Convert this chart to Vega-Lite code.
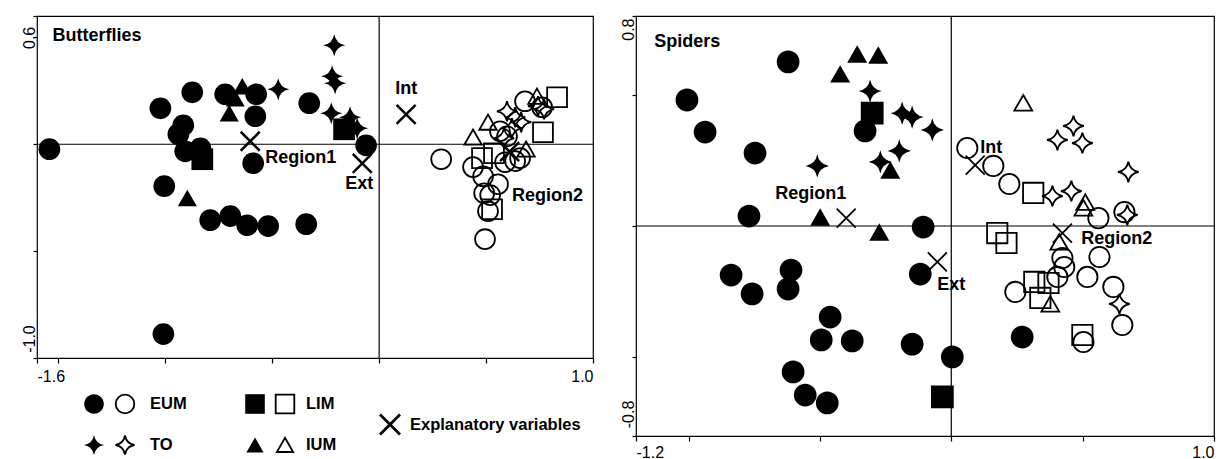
{
  "$schema": "https://vega.github.io/schema/vega-lite/v6.json",
  "padding": {"left": 20, "top": 14, "right": 5, "bottom": 5},
  "background": "white",
  "config": {
    "view": {"stroke": "black", "strokeWidth": 1.2},
    "axis": {"domain": false, "grid": false, "ticks": true, "tickColor": "black", "tickWidth": 1.2, "labelColor": "black", "labelFont": "Liberation Sans", "labelFontSize": 16, "labelOverlap": false, "labelBound": false},
    "point": {"opacity": 1},
    "text": {"font": "Liberation Sans", "fontWeight": "bold", "color": "black"}
  },
  "datasets": {
    "pts": [
      {"panel":"Butterflies","group":"EUM","region":"Region1","x":-1.542,"y":-0.023},
      {"panel":"Butterflies","group":"EUM","region":"Region1","x":-1.023,"y":0.168},
      {"panel":"Butterflies","group":"EUM","region":"Region1","x":-0.874,"y":0.243},
      {"panel":"Butterflies","group":"EUM","region":"Region1","x":-0.916,"y":0.089},
      {"panel":"Butterflies","group":"EUM","region":"Region1","x":-0.939,"y":0.047},
      {"panel":"Butterflies","group":"EUM","region":"Region1","x":-0.907,"y":-0.033},
      {"panel":"Butterflies","group":"EUM","region":"Region1","x":-0.836,"y":-0.019},
      {"panel":"Butterflies","group":"EUM","region":"Region1","x":-0.720,"y":0.234},
      {"panel":"Butterflies","group":"EUM","region":"Region1","x":-0.575,"y":0.234},
      {"panel":"Butterflies","group":"EUM","region":"Region1","x":-0.579,"y":0.131},
      {"panel":"Butterflies","group":"EUM","region":"Region1","x":-0.589,"y":-0.089},
      {"panel":"Butterflies","group":"EUM","region":"Region1","x":-0.327,"y":0.192},
      {"panel":"Butterflies","group":"EUM","region":"Region1","x":-0.061,"y":-0.005},
      {"panel":"Butterflies","group":"EUM","region":"Region1","x":-1.005,"y":-0.196},
      {"panel":"Butterflies","group":"EUM","region":"Region1","x":-0.790,"y":-0.355},
      {"panel":"Butterflies","group":"EUM","region":"Region1","x":-0.696,"y":-0.336},
      {"panel":"Butterflies","group":"EUM","region":"Region1","x":-0.617,"y":-0.379},
      {"panel":"Butterflies","group":"EUM","region":"Region1","x":-0.519,"y":-0.383},
      {"panel":"Butterflies","group":"EUM","region":"Region1","x":-0.341,"y":-0.374},
      {"panel":"Butterflies","group":"EUM","region":"Region1","x":-1.009,"y":-0.888},
      {"panel":"Butterflies","group":"LIM","region":"Region1","x":-0.827,"y":-0.070},
      {"panel":"Butterflies","group":"LIM","region":"Region1","x":-0.164,"y":0.070},
      {"panel":"Butterflies","group":"IUM","region":"Region1","x":-0.640,"y":0.271},
      {"panel":"Butterflies","group":"IUM","region":"Region1","x":-0.673,"y":0.215},
      {"panel":"Butterflies","group":"IUM","region":"Region1","x":-0.701,"y":0.145},
      {"panel":"Butterflies","group":"IUM","region":"Region1","x":-0.897,"y":-0.252},
      {"panel":"Butterflies","group":"TO","region":"Region1","x":-0.472,"y":0.257},
      {"panel":"Butterflies","group":"TO","region":"Region1","x":-0.210,"y":0.463},
      {"panel":"Butterflies","group":"TO","region":"Region1","x":-0.220,"y":0.318},
      {"panel":"Butterflies","group":"TO","region":"Region1","x":-0.206,"y":0.285},
      {"panel":"Butterflies","group":"TO","region":"Region1","x":-0.224,"y":0.145},
      {"panel":"Butterflies","group":"TO","region":"Region1","x":-0.136,"y":0.126},
      {"panel":"Butterflies","group":"TO","region":"Region1","x":-0.103,"y":0.075},
      {"panel":"Butterflies","group":"EUM","region":"Region2","x":0.290,"y":-0.070},
      {"panel":"Butterflies","group":"EUM","region":"Region2","x":0.439,"y":-0.107},
      {"panel":"Butterflies","group":"EUM","region":"Region2","x":0.486,"y":-0.150},
      {"panel":"Butterflies","group":"EUM","region":"Region2","x":0.589,"y":-0.084},
      {"panel":"Butterflies","group":"EUM","region":"Region2","x":0.636,"y":-0.079},
      {"panel":"Butterflies","group":"EUM","region":"Region2","x":0.556,"y":-0.187},
      {"panel":"Butterflies","group":"EUM","region":"Region2","x":0.491,"y":-0.229},
      {"panel":"Butterflies","group":"EUM","region":"Region2","x":0.519,"y":-0.238},
      {"panel":"Butterflies","group":"EUM","region":"Region2","x":0.509,"y":-0.313},
      {"panel":"Butterflies","group":"EUM","region":"Region2","x":0.495,"y":-0.444},
      {"panel":"Butterflies","group":"EUM","region":"Region2","x":0.682,"y":0.201},
      {"panel":"Butterflies","group":"EUM","region":"Region2","x":0.762,"y":0.173},
      {"panel":"Butterflies","group":"EUM","region":"Region2","x":0.598,"y":0.037},
      {"panel":"Butterflies","group":"EUM","region":"Region2","x":0.565,"y":0.061},
      {"panel":"Butterflies","group":"EUM","region":"Region2","x":0.659,"y":-0.065},
      {"panel":"Butterflies","group":"LIM","region":"Region2","x":0.832,"y":0.220},
      {"panel":"Butterflies","group":"LIM","region":"Region2","x":0.766,"y":0.056},
      {"panel":"Butterflies","group":"LIM","region":"Region2","x":0.481,"y":-0.065},
      {"panel":"Butterflies","group":"LIM","region":"Region2","x":0.537,"y":-0.042},
      {"panel":"Butterflies","group":"LIM","region":"Region2","x":0.528,"y":-0.304},
      {"panel":"Butterflies","group":"IUM","region":"Region2","x":0.738,"y":0.224},
      {"panel":"Butterflies","group":"IUM","region":"Region2","x":0.509,"y":0.103},
      {"panel":"Butterflies","group":"IUM","region":"Region2","x":0.439,"y":0.033},
      {"panel":"Butterflies","group":"IUM","region":"Region2","x":0.687,"y":-0.023},
      {"panel":"Butterflies","group":"TO","region":"Region2","x":0.743,"y":0.178},
      {"panel":"Butterflies","group":"TO","region":"Region2","x":0.771,"y":0.164},
      {"panel":"Butterflies","group":"TO","region":"Region2","x":0.598,"y":0.154},
      {"panel":"Butterflies","group":"TO","region":"Region2","x":0.636,"y":0.126},
      {"panel":"Butterflies","group":"TO","region":"Region2","x":0.664,"y":0.103},
      {"panel":"Butterflies","group":"TO","region":"Region2","x":0.621,"y":0.075},
      {"panel":"Butterflies","group":"TO","region":"Region2","x":0.584,"y":0.028},
      {"panel":"Spiders","group":"EUM","region":"Region1","x":-0.621,"y":0.625},
      {"panel":"Spiders","group":"EUM","region":"Region1","x":-1.006,"y":0.480},
      {"panel":"Spiders","group":"EUM","region":"Region1","x":-0.937,"y":0.358},
      {"panel":"Spiders","group":"EUM","region":"Region1","x":-0.747,"y":0.278},
      {"panel":"Spiders","group":"EUM","region":"Region1","x":-0.328,"y":0.362},
      {"panel":"Spiders","group":"EUM","region":"Region1","x":-0.770,"y":0.038},
      {"panel":"Spiders","group":"EUM","region":"Region1","x":-0.107,"y":-0.004},
      {"panel":"Spiders","group":"EUM","region":"Region1","x":-0.838,"y":-0.187},
      {"panel":"Spiders","group":"EUM","region":"Region1","x":-0.758,"y":-0.259},
      {"panel":"Spiders","group":"EUM","region":"Region1","x":-0.610,"y":-0.168},
      {"panel":"Spiders","group":"EUM","region":"Region1","x":-0.621,"y":-0.240},
      {"panel":"Spiders","group":"EUM","region":"Region1","x":-0.461,"y":-0.347},
      {"panel":"Spiders","group":"EUM","region":"Region1","x":-0.495,"y":-0.434},
      {"panel":"Spiders","group":"EUM","region":"Region1","x":-0.377,"y":-0.438},
      {"panel":"Spiders","group":"EUM","region":"Region1","x":-0.602,"y":-0.556},
      {"panel":"Spiders","group":"EUM","region":"Region1","x":-0.556,"y":-0.644},
      {"panel":"Spiders","group":"EUM","region":"Region1","x":-0.472,"y":-0.674},
      {"panel":"Spiders","group":"EUM","region":"Region1","x":-0.149,"y":-0.450},
      {"panel":"Spiders","group":"EUM","region":"Region1","x":-0.118,"y":-0.183},
      {"panel":"Spiders","group":"EUM","region":"Region1","x":0.004,"y":-0.499},
      {"panel":"Spiders","group":"EUM","region":"Region1","x":0.270,"y":-0.423},
      {"panel":"Spiders","group":"LIM","region":"Region1","x":-0.301,"y":0.430},
      {"panel":"Spiders","group":"LIM","region":"Region1","x":-0.034,"y":-0.651},
      {"panel":"Spiders","group":"IUM","region":"Region1","x":-0.358,"y":0.655},
      {"panel":"Spiders","group":"IUM","region":"Region1","x":-0.278,"y":0.651},
      {"panel":"Spiders","group":"IUM","region":"Region1","x":-0.423,"y":0.579},
      {"panel":"Spiders","group":"IUM","region":"Region1","x":-0.232,"y":0.213},
      {"panel":"Spiders","group":"IUM","region":"Region1","x":-0.499,"y":0.034},
      {"panel":"Spiders","group":"IUM","region":"Region1","x":-0.274,"y":-0.023},
      {"panel":"Spiders","group":"TO","region":"Region1","x":-0.309,"y":0.514},
      {"panel":"Spiders","group":"TO","region":"Region1","x":-0.187,"y":0.430},
      {"panel":"Spiders","group":"TO","region":"Region1","x":-0.149,"y":0.415},
      {"panel":"Spiders","group":"TO","region":"Region1","x":-0.072,"y":0.366},
      {"panel":"Spiders","group":"TO","region":"Region1","x":-0.198,"y":0.286},
      {"panel":"Spiders","group":"TO","region":"Region1","x":-0.270,"y":0.244},
      {"panel":"Spiders","group":"TO","region":"Region1","x":-0.510,"y":0.229},
      {"panel":"Spiders","group":"EUM","region":"Region2","x":0.061,"y":0.297},
      {"panel":"Spiders","group":"EUM","region":"Region2","x":0.160,"y":0.229},
      {"panel":"Spiders","group":"EUM","region":"Region2","x":0.221,"y":0.160},
      {"panel":"Spiders","group":"EUM","region":"Region2","x":0.560,"y":0.030},
      {"panel":"Spiders","group":"EUM","region":"Region2","x":0.659,"y":0.053},
      {"panel":"Spiders","group":"EUM","region":"Region2","x":0.423,"y":-0.122},
      {"panel":"Spiders","group":"EUM","region":"Region2","x":0.430,"y":-0.156},
      {"panel":"Spiders","group":"EUM","region":"Region2","x":0.404,"y":-0.194},
      {"panel":"Spiders","group":"EUM","region":"Region2","x":0.564,"y":-0.118},
      {"panel":"Spiders","group":"EUM","region":"Region2","x":0.518,"y":-0.194},
      {"panel":"Spiders","group":"EUM","region":"Region2","x":0.244,"y":-0.251},
      {"panel":"Spiders","group":"EUM","region":"Region2","x":0.617,"y":-0.232},
      {"panel":"Spiders","group":"EUM","region":"Region2","x":0.651,"y":-0.377},
      {"panel":"Spiders","group":"EUM","region":"Region2","x":0.503,"y":-0.442},
      {"panel":"Spiders","group":"LIM","region":"Region2","x":0.312,"y":0.126},
      {"panel":"Spiders","group":"LIM","region":"Region2","x":0.175,"y":-0.027},
      {"panel":"Spiders","group":"LIM","region":"Region2","x":0.210,"y":-0.065},
      {"panel":"Spiders","group":"LIM","region":"Region2","x":0.316,"y":-0.213},
      {"panel":"Spiders","group":"LIM","region":"Region2","x":0.370,"y":-0.217},
      {"panel":"Spiders","group":"LIM","region":"Region2","x":0.339,"y":-0.274},
      {"panel":"Spiders","group":"LIM","region":"Region2","x":0.499,"y":-0.415},
      {"panel":"Spiders","group":"IUM","region":"Region2","x":0.274,"y":0.469},
      {"panel":"Spiders","group":"IUM","region":"Region2","x":0.510,"y":0.091},
      {"panel":"Spiders","group":"IUM","region":"Region2","x":0.503,"y":0.069},
      {"panel":"Spiders","group":"IUM","region":"Region2","x":0.411,"y":-0.061},
      {"panel":"Spiders","group":"IUM","region":"Region2","x":0.377,"y":-0.297},
      {"panel":"Spiders","group":"TO","region":"Region2","x":0.465,"y":0.381},
      {"panel":"Spiders","group":"TO","region":"Region2","x":0.404,"y":0.328},
      {"panel":"Spiders","group":"TO","region":"Region2","x":0.499,"y":0.316},
      {"panel":"Spiders","group":"TO","region":"Region2","x":0.674,"y":0.206},
      {"panel":"Spiders","group":"TO","region":"Region2","x":0.385,"y":0.114},
      {"panel":"Spiders","group":"TO","region":"Region2","x":0.457,"y":0.133},
      {"panel":"Spiders","group":"TO","region":"Region2","x":0.670,"y":0.042},
      {"panel":"Spiders","group":"TO","region":"Region2","x":0.640,"y":-0.297}
    ],
    "vars": [
      {"panel":"Butterflies","name":"Region1","x":-0.603,"y":0.014},
      {"panel":"Butterflies","name":"Ext","x":-0.079,"y":-0.089},
      {"panel":"Butterflies","name":"Int","x":0.126,"y":0.140},
      {"panel":"Butterflies","name":"Region2","x":0.610,"y":-0.035},
      {"panel":"Spiders","name":"Region1","x":-0.400,"y":0.030},
      {"panel":"Spiders","name":"Int","x":0.091,"y":0.232},
      {"panel":"Spiders","name":"Ext","x":-0.053,"y":-0.137},
      {"panel":"Spiders","name":"Region2","x":0.423,"y":-0.027}
    ],
    "labels": [
      {"panel":"Butterflies","label":"Butterflies","x":-1.528,"y":0.505},
      {"panel":"Butterflies","label":"Region1","x":-0.533,"y":-0.065},
      {"panel":"Butterflies","label":"Ext","x":-0.159,"y":-0.187},
      {"panel":"Butterflies","label":"Int","x":0.075,"y":0.257},
      {"panel":"Butterflies","label":"Region2","x":0.621,"y":-0.243},
      {"panel":"Spiders","label":"Spiders","x":-1.131,"y":0.701},
      {"panel":"Spiders","label":"Region1","x":-0.670,"y":0.122},
      {"panel":"Spiders","label":"Int","x":0.110,"y":0.297},
      {"panel":"Spiders","label":"Ext","x":-0.053,"y":-0.225},
      {"panel":"Spiders","label":"Region2","x":0.495,"y":-0.050}
    ],
    "legend": [
      {"group":"EUM","region":"Region1"},{"group":"EUM","region":"Region2"},
      {"group":"TO","region":"Region1"},{"group":"TO","region":"Region2"},
      {"group":"LIM","region":"Region1"},{"group":"LIM","region":"Region2"},
      {"group":"IUM","region":"Region1"},{"group":"IUM","region":"Region2"}
    ],
    "legvars": [{"label":"Explanatory variables"}]
  },
  "hconcat": [
    {
      "width": 556, "height": 342,
      "resolve": {"scale": {"x": "independent", "y": "independent"}},
      "layer": [
        {
          "layer": [
            {"data": {"values": [{}]}, "mark": {"type": "rule", "color": "black", "strokeWidth": 1.2}, "encoding": {"x": {"datum": 0, "type": "quantitative"}}},
            {"data": {"values": [{}]}, "mark": {"type": "rule", "color": "black", "strokeWidth": 1.2}, "encoding": {"y": {"datum": 0, "type": "quantitative"}}},
            {
              "data": {"name": "pts"},
              "transform": [{"filter": "datum.panel == 'Butterflies' && datum.region == 'Region1'"}],
              "mark": {"type": "point", "filled": true, "color": "black", "size": 490, "opacity": 1},
              "encoding": {
                "x": {"field": "x", "type": "quantitative", "scale": {"domain": [-1.6, 1], "nice": false, "zero": false},
                  "axis": {"title": null, "values": [-1.6, -1.5, -1, -0.5, 0, 0.5, 1], "labelExpr": "datum.value == -1.6 ? '-1.6' : (datum.value == 1 ? '1.0' : '')", "labelFlush": true, "tickSize": 5, "labelPadding": 5}},
                "y": {"field": "y", "type": "quantitative", "scale": {"domain": [-1, 0.6], "nice": false, "zero": false},
                  "axis": {"title": null, "values": [0.6, 0.5, 0, -0.5, -0.909, -1], "labelExpr": "datum.value == 0.5 ? '0.6' : (datum.value == -0.909 ? '-1.0' : '')", "tickOpacity": {"condition": {"test": "datum.value == -0.909", "value": 0}, "value": 1}, "labelAngle": 270, "labelAlign": "center", "labelBaseline": "alphabetic", "labelPadding": -1, "tickSize": 4, "labelFlush": false}},
                "shape": {"field": "group", "type": "nominal", "legend": null, "scale": {"domain": ["EUM", "TO", "LIM", "IUM"], "range": ["M0.98,0A0.98,0.98,0,1,1,-0.98,0A0.98,0.98,0,1,1,0.98,0Z", "M0,-1Q0.15,-0.15,1,0Q0.15,0.15,0,1Q-0.15,0.15,-1,0Q-0.15,-0.15,0,-1Z", "M-0.98,-0.98H0.98V0.98H-0.98Z", "M0,-0.76L0.86,0.74L-0.86,0.74Z"]}}
              }
            },
            {
              "data": {"name": "pts"},
              "transform": [{"filter": "datum.panel == 'Butterflies' && datum.region == 'Region2'"}],
              "mark": {"type": "point", "filled": false, "color": "black", "strokeWidth": 1.8, "size": 410, "opacity": 1},
              "encoding": {
                "x": {"field": "x", "type": "quantitative"},
                "y": {"field": "y", "type": "quantitative"},
                "shape": {"field": "group", "type": "nominal", "legend": null}
              }
            },
            {
              "data": {"name": "vars"},
              "transform": [{"filter": "datum.panel == 'Butterflies'"}],
              "mark": {"type": "point", "filled": false, "color": "black", "strokeWidth": 2.5, "size": 361, "opacity": 1, "shape": "M-1,-1L1,1M-1,1L1,-1"},
              "encoding": {"x": {"field": "x", "type": "quantitative"}, "y": {"field": "y", "type": "quantitative"}}
            },
            {
              "data": {"name": "labels"},
              "transform": [{"filter": "datum.panel == 'Butterflies'"}],
              "mark": {"type": "text", "align": "left", "baseline": "middle", "fontSize": 18, "fontWeight": "bold", "font": "Liberation Sans", "color": "black"},
              "encoding": {"x": {"field": "x", "type": "quantitative"}, "y": {"field": "y", "type": "quantitative"}, "text": {"field": "label"}}
            }
          ]
        },
        {
          "data": {"name": "legend"},
          "transform": [{"filter": {"field": "group", "oneOf": ["EUM", "TO"]}}],
          "encoding": {
            "x": {"field": "region", "type": "nominal", "axis": null, "scale": {"domain": ["Region1", "Region2"], "range": [57, 88], "padding": 0}},
            "y": {"field": "group", "type": "nominal", "axis": null, "scale": {"domain": ["EUM", "TO"], "range": [388, 429], "padding": 0}}
          },
          "layer": [
            {"transform": [{"filter": "datum.region == 'Region1'"}], "mark": {"type": "point", "filled": true, "color": "black", "size": 400, "opacity": 1}, "encoding": {"shape": {"field": "group", "type": "nominal", "legend": null}}},
            {"transform": [{"filter": "datum.region == 'Region2'"}], "mark": {"type": "point", "filled": false, "color": "black", "strokeWidth": 1.8, "size": 360, "opacity": 1}, "encoding": {"shape": {"field": "group", "type": "nominal", "legend": null}}},
            {"transform": [{"filter": "datum.region == 'Region2'"}], "mark": {"type": "text", "align": "left", "baseline": "middle", "dx": 25, "fontSize": 16.5, "fontWeight": "bold", "font": "Liberation Sans", "color": "black"}, "encoding": {"text": {"field": "group"}}}
          ]
        },
        {
          "data": {"name": "legend"},
          "transform": [{"filter": {"field": "group", "oneOf": ["LIM", "IUM"]}}],
          "encoding": {
            "x": {"field": "region", "type": "nominal", "axis": null, "scale": {"domain": ["Region1", "Region2"], "range": [218, 248], "padding": 0}},
            "y": {"field": "group", "type": "nominal", "axis": null, "scale": {"domain": ["LIM", "IUM"], "range": [388, 429], "padding": 0}}
          },
          "layer": [
            {"transform": [{"filter": "datum.region == 'Region1'"}], "mark": {"type": "point", "filled": true, "color": "black", "size": 400, "opacity": 1}, "encoding": {"shape": {"field": "group", "type": "nominal", "legend": null}}},
            {"transform": [{"filter": "datum.region == 'Region2'"}], "mark": {"type": "point", "filled": false, "color": "black", "strokeWidth": 1.8, "size": 360, "opacity": 1}, "encoding": {"shape": {"field": "group", "type": "nominal", "legend": null}}},
            {"transform": [{"filter": "datum.region == 'Region2'"}], "mark": {"type": "text", "align": "left", "baseline": "middle", "dx": 21, "fontSize": 16.5, "fontWeight": "bold", "font": "Liberation Sans", "color": "black"}, "encoding": {"text": {"field": "group"}}}
          ]
        },
        {
          "data": {"name": "legvars"},
          "encoding": {
            "x": {"field": "label", "type": "nominal", "axis": null, "scale": {"range": [343, 363], "padding": 0.5}},
            "y": {"field": "label", "type": "nominal", "axis": null, "scale": {"range": [388, 429], "padding": 0.5}}
          },
          "layer": [
            {"mark": {"type": "point", "filled": false, "color": "black", "strokeWidth": 2.8, "size": 400, "opacity": 1, "shape": "M-1,-1L1,1M-1,1L1,-1"}},
            {"mark": {"type": "text", "align": "left", "baseline": "middle", "dx": 20, "fontSize": 16.5, "fontWeight": "bold", "font": "Liberation Sans", "color": "black"}, "encoding": {"text": {"field": "label"}}}
          ]
        }
      ]
    },
    {
      "width": 578, "height": 420,
      "layer": [
        {"data": {"values": [{}]}, "mark": {"type": "rule", "color": "black", "strokeWidth": 1.2}, "encoding": {"x": {"datum": 0, "type": "quantitative"}}},
        {"data": {"values": [{}]}, "mark": {"type": "rule", "color": "black", "strokeWidth": 1.2}, "encoding": {"y": {"datum": 0, "type": "quantitative"}}},
        {
          "data": {"name": "pts"},
          "transform": [{"filter": "datum.panel == 'Spiders' && datum.region == 'Region1'"}],
          "mark": {"type": "point", "filled": true, "color": "black", "size": 540, "opacity": 1},
          "encoding": {
            "x": {"field": "x", "type": "quantitative", "scale": {"domain": [-1.2, 1], "nice": false, "zero": false},
              "axis": {"title": null, "values": [-1.2, -1, -0.5, 0, 0.5, 1], "labelExpr": "datum.value == -1.2 ? '-1.2' : (datum.value == 1 ? '1.0' : '')", "labelFlush": true, "tickSize": 5, "labelPadding": 3}},
            "y": {"field": "y", "type": "quantitative", "scale": {"domain": [-0.8, 0.8], "nice": false, "zero": false},
              "axis": {"title": null, "values": [0.8, 0.75, 0.5, 0, -0.5, -0.716, -0.8], "labelExpr": "datum.value == 0.75 ? '0.8' : (datum.value == -0.716 ? '-0.8' : '')", "tickOpacity": {"condition": {"test": "datum.value == 0.75 || datum.value == -0.716", "value": 0}, "value": 1}, "labelAngle": 270, "labelAlign": "center", "labelBaseline": "alphabetic", "labelPadding": -1, "tickSize": 4, "labelFlush": false}},
            "shape": {"field": "group", "type": "nominal", "legend": null}
          }
        },
        {
          "data": {"name": "pts"},
          "transform": [{"filter": "datum.panel == 'Spiders' && datum.region == 'Region2'"}],
          "mark": {"type": "point", "filled": false, "color": "black", "strokeWidth": 1.8, "size": 430, "opacity": 1},
          "encoding": {
            "x": {"field": "x", "type": "quantitative"},
            "y": {"field": "y", "type": "quantitative"},
            "shape": {"field": "group", "type": "nominal", "legend": null}
          }
        },
        {
          "data": {"name": "vars"},
          "transform": [{"filter": "datum.panel == 'Spiders'"}],
          "mark": {"type": "point", "filled": false, "color": "black", "strokeWidth": 1.8, "size": 361, "opacity": 1, "shape": "M-1,-1L1,1M-1,1L1,-1"},
          "encoding": {"x": {"field": "x", "type": "quantitative"}, "y": {"field": "y", "type": "quantitative"}}
        },
        {
          "data": {"name": "labels"},
          "transform": [{"filter": "datum.panel == 'Spiders'"}],
          "mark": {"type": "text", "align": "left", "baseline": "middle", "fontSize": 18, "fontWeight": "bold", "font": "Liberation Sans", "color": "black"},
          "encoding": {"x": {"field": "x", "type": "quantitative"}, "y": {"field": "y", "type": "quantitative"}, "text": {"field": "label"}}
        }
      ]
    }
  ],
  "spacing": 43,
  "bounds": "flush"
}
